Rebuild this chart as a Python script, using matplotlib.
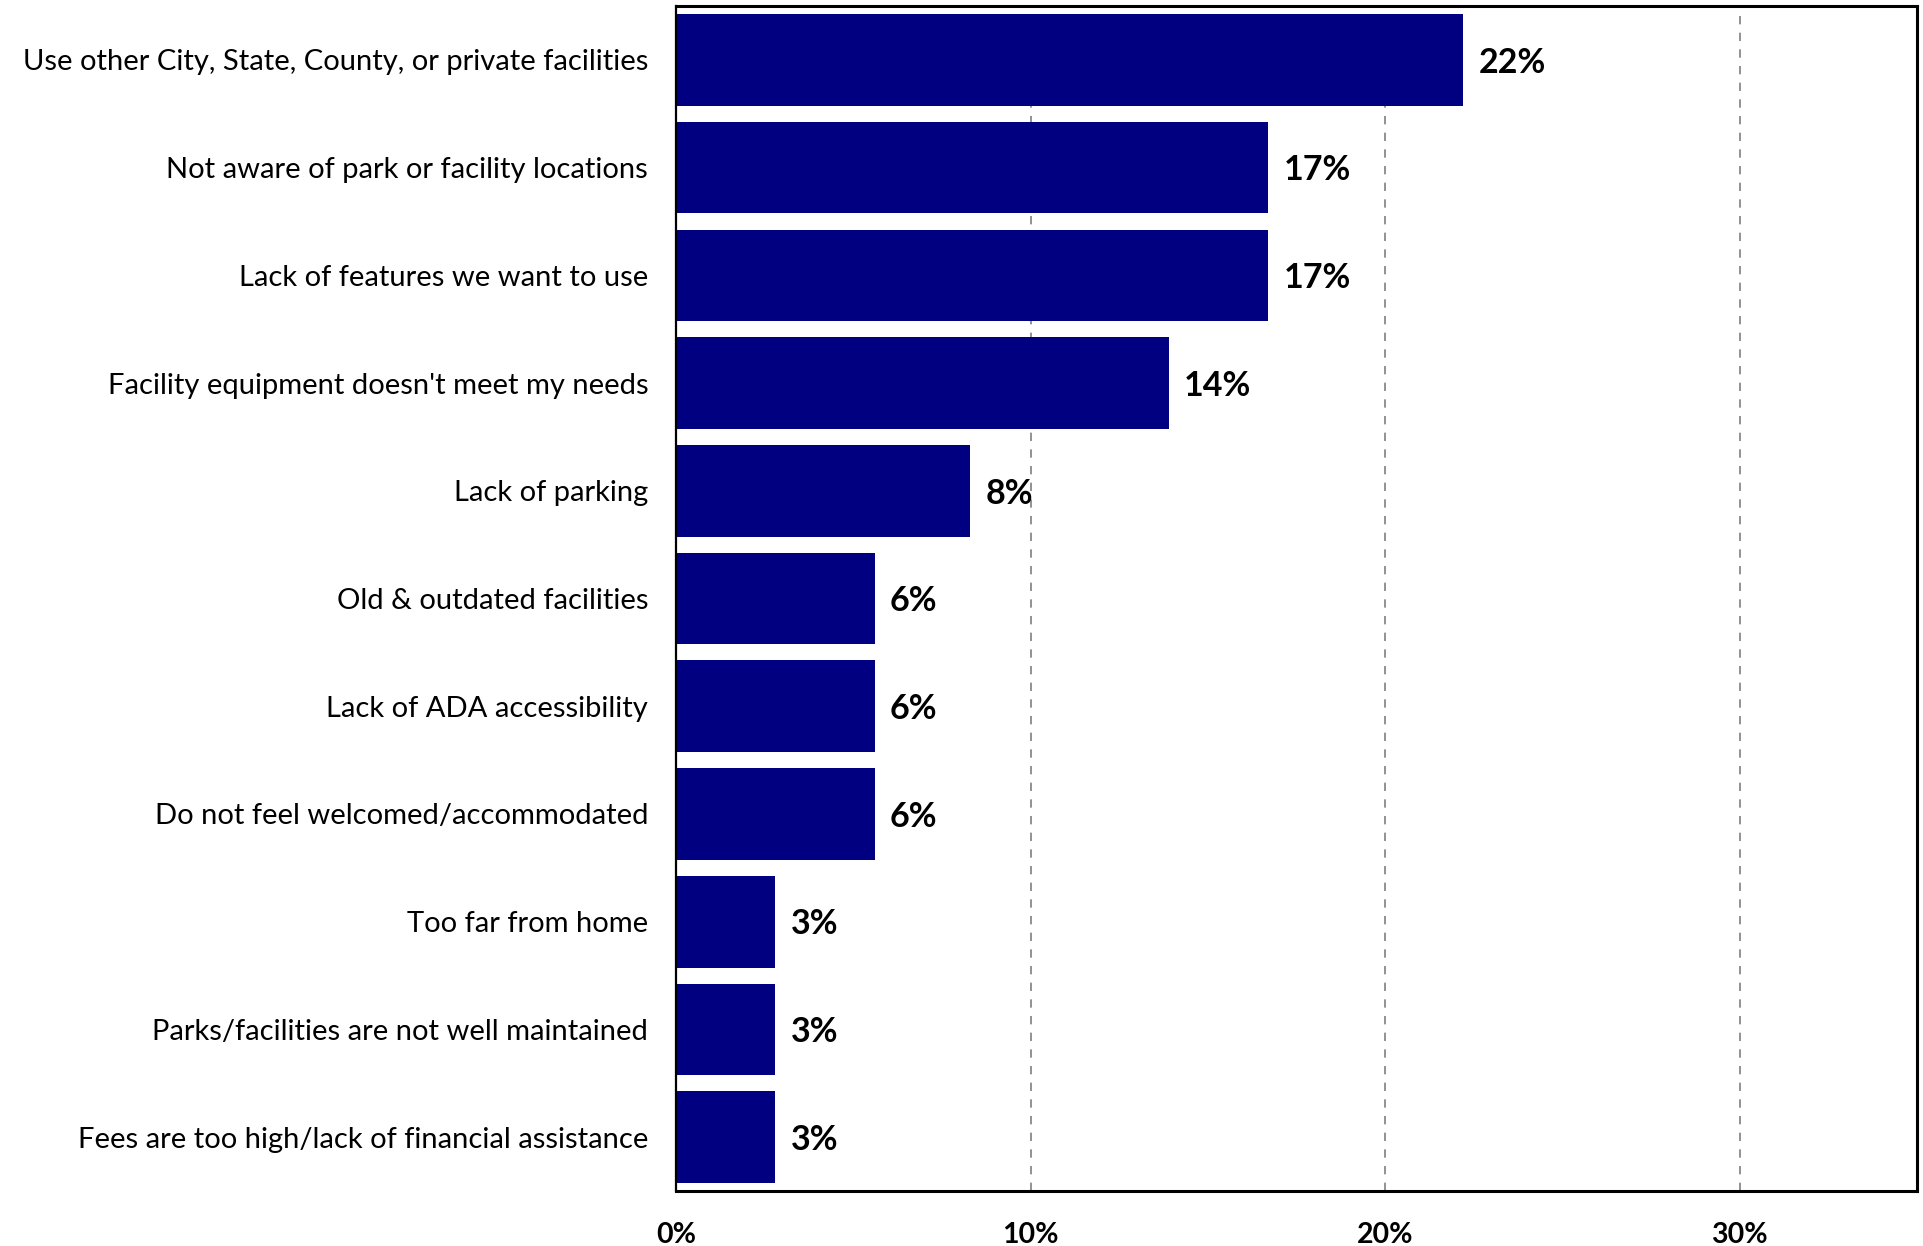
import matplotlib.pyplot as plt

plt.rcParams['font.family'] = ['Lato', 'DejaVu Sans']

# Reasons for not using parks/facilities (share of respondents, %)
reasons = [
    "Use other City, State, County, or private facilities",
    "Not aware of park or facility locations",
    "Lack of features we want to use",
    "Facility equipment doesn't meet my needs",
    "Lack of parking",
    "Old & outdated facilities",
    "Lack of ADA accessibility",
    "Do not feel welcomed/accommodated",
    "Too far from home",
    "Parks/facilities are not well maintained",
    "Fees are too high/lack of financial assistance",
]
shares = [22.2, 16.7, 16.7, 13.9, 8.3, 5.6, 5.6, 5.6, 2.8, 2.8, 2.8]

x_ticks = [0, 10, 20, 30]
x_tick_labels = ["0%", "10%", "20%", "30%"]

fig = plt.figure(figsize=(19.23, 12.46), dpi=100)
ax = fig.add_axes([0.3515, 0.0441, 0.6454, 0.9511])

pos = list(range(len(reasons)))
ax.barh(pos, shares, height=0.85, color="#000080", zorder=2)

for y, v in zip(pos, shares):
    ax.annotate(f"{v:.0f}%", (v, y), xytext=(11, -2), textcoords="offset points",
                ha="left", va="center", fontsize=24.5, fontweight="bold", color="black")

ax.set_xlim(0, 35)
ax.set_ylim(len(reasons) - 0.5, -0.5)
ax.set_yticks(pos)
ax.set_yticklabels(reasons, fontsize=21)
ax.set_xticks(x_ticks)
ax.set_xticklabels(x_tick_labels, fontsize=20.5, fontweight="bold")
ax.tick_params(axis="y", length=0, pad=20)
ax.tick_params(axis="x", length=0, pad=22)

ax.grid(axis="x", color="#7f7f7f", linestyle=(0, (5, 5)), linewidth=1.2, zorder=1)
for side in ["top", "right", "bottom"]:
    ax.spines[side].set_linewidth(2.2)
ax.spines["left"].set_linewidth(1.6)

fig.savefig("out.png", dpi=100)
plt.close(fig)
